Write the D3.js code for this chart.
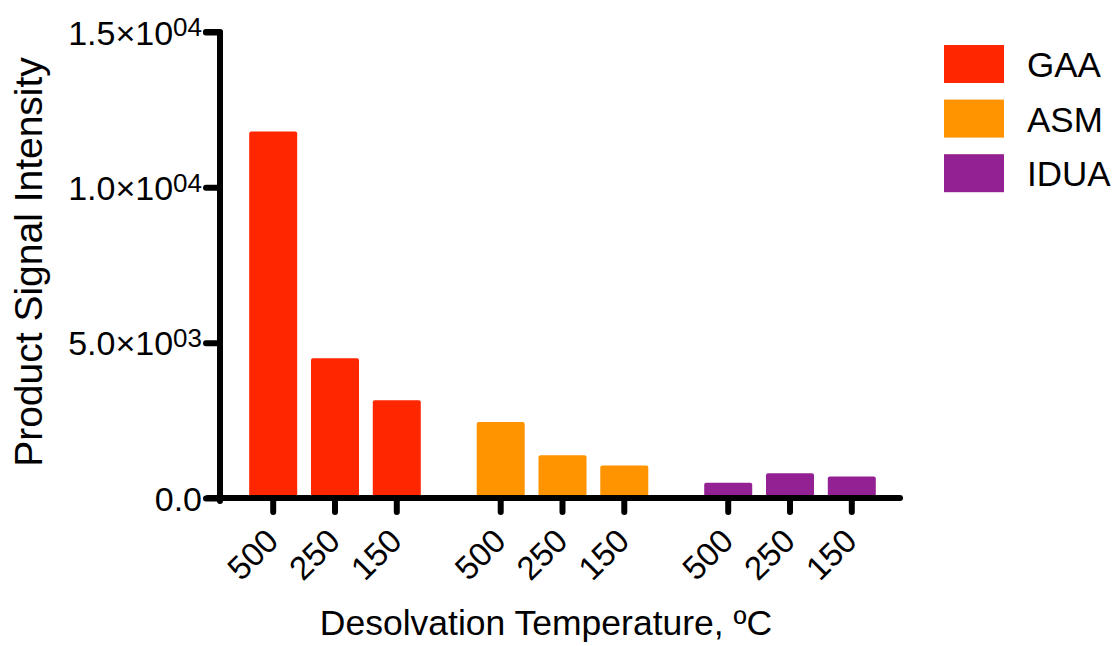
<!DOCTYPE html>
<html>
<head>
<meta charset="utf-8">
<script src="https://cdn.jsdelivr.net/npm/d3@7"></script>
<style>
  body { margin: 0; background: #fff; }
  text { font-family: "Liberation Sans", Arial, Helvetica, sans-serif; fill: #000; }
</style>
</head>
<body>
<script>
// data
var groups = ['GAA', 'ASM', 'IDUA'];
var temps = ['500', '250', '150'];
var gaa_vals = [11800, 4500, 3150];
var asm_vals = [2450, 1380, 1050];
var idua_vals = [490, 800, 690];
var group_colors = ['#ff2600', '#ff9300', '#942193'];
var y_ticks = [0, 5000, 10000, 15000];
var y_tick_labels = [['0.0', ''], ['5.0\u00d710', '03'], ['1.0\u00d710', '04'], ['1.5\u00d710', '04']];

var width = 1120, height = 646;
var axis_x = 220, axis_y = 498;

var series = [gaa_vals, asm_vals, idua_vals];

var svg = d3.select('body').append('svg').attr('width', width).attr('height', height);

var yScale = d3.scaleLinear().domain([0, 15000]).range([axis_y, 32]);

// outer scale for the three enzymes, inner one for the temperatures
var outer = d3.scaleBand().domain(groups).range([242.4, 882.6]).paddingInner(0.186).paddingOuter(0);
var inner = d3.scaleBand().domain(temps).range([0, outer.bandwidth()]).paddingInner(0.223).paddingOuter(0.11);

// bars
groups.forEach(function(g, gi) {
	svg.append('g').attr('transform', 'translate(' + outer(g) + ',0)')
		.selectAll('rect')
		.data(series[gi])
		.enter()
		.append('rect')
		.attr('x', function(d, i) { return inner(temps[i]); })
		.attr('y', function(d) { return yScale(d); })
		.attr('width', inner.bandwidth())
		.attr('height', function(d) { return yScale(0) - yScale(d); })
		.attr('rx', 2)
		.attr('fill', group_colors[gi]);
});

// x ticks + rotated labels, one axis per group
groups.forEach(function(g) {
	var ax = svg.append('g').attr('transform', 'translate(' + outer(g) + ',' + axis_y + ')')
		.call(d3.axisBottom(inner).tickSize(14).tickSizeOuter(0));
	ax.select('.domain').remove();
	ax.selectAll('.tick line').attr('stroke', '#000').attr('stroke-width', 6).attr('stroke-linecap', 'round');
	ax.selectAll('.tick text')
		.attr('font-size', 33)
		.attr('text-anchor', 'end')
		.attr('y', null).attr('dy', null)
		.attr('transform', 'translate(7,45) rotate(-45)');
});

// x axis line
svg.append('line')
	.attr('x1', 208).attr('x2', 900)
	.attr('y1', axis_y).attr('y2', axis_y)
	.attr('stroke', '#000').attr('stroke-width', 6).attr('stroke-linecap', 'round');

// y axis
var yax = svg.append('g').attr('transform', 'translate(' + axis_x + ',0)')
	.call(d3.axisLeft(yScale).tickValues(y_ticks).tickSize(14).tickSizeOuter(0).tickFormat(''));
yax.select('.domain')
	.attr('d', 'M-14,' + yScale(15000) + 'H0V' + (axis_y + 3))
	.attr('stroke', '#000').attr('stroke-width', 6).attr('fill', 'none')
	.attr('stroke-linejoin', 'round').attr('stroke-linecap', 'round');
yax.selectAll('.tick line').attr('stroke', '#000').attr('stroke-width', 6).attr('stroke-linecap', 'round');

var ylab = yax.selectAll('.tick').append('text')
	.attr('x', -18).attr('dy', '0.36em')
	.attr('text-anchor', 'end')
	.attr('font-size', 34)
	.attr('fill', '#000');
ylab.append('tspan').text(function(d, i) { return y_tick_labels[i][0]; });
ylab.append('tspan').attr('dy', '-0.33em').attr('font-size', 26)
	.text(function(d, i) { return y_tick_labels[i][1]; });

// axis titles
svg.append('text')
	.attr('transform', 'translate(42,262) rotate(-90)')
	.attr('text-anchor', 'middle').attr('font-size', 39)
	.text('Product Signal Intensity');

svg.append('text')
	.attr('x', 546).attr('y', 635)
	.attr('text-anchor', 'middle').attr('font-size', 35.5)
	.text('Desolvation Temperature, \u00baC');

// legend
var legend = svg.append('g').attr('transform', 'translate(944,45)');
var item = legend.selectAll('g').data(groups).enter().append('g')
	.attr('transform', function(d, i) { return 'translate(0,' + (i * 54.6) + ')'; });
item.append('rect').attr('width', 60).attr('height', 38)
	.attr('fill', function(d, i) { return group_colors[i]; });
item.append('text').attr('x', 83).attr('y', 32).attr('font-size', 35)
	.text(function(d) { return d; });
</script>
</body>
</html>
